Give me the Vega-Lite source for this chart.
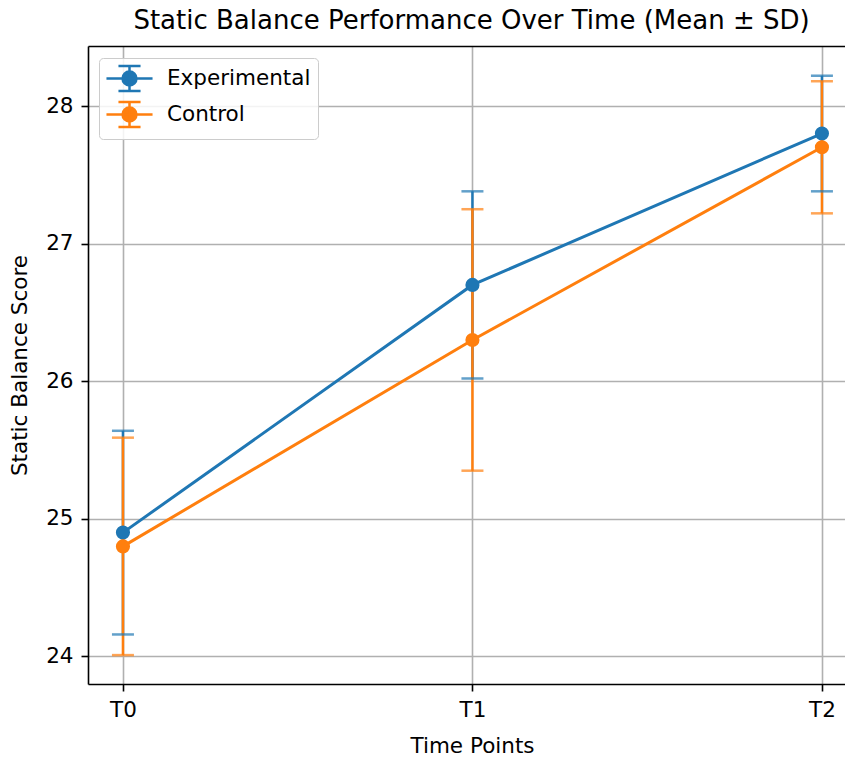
{
  "$schema": "https://vega.github.io/schema/vega-lite/v6.json",
  "autosize": {"type": "none"},
  "padding": {"left": 88, "top": 46, "right": 0, "bottom": 74},
  "width": 757,
  "height": 638,
  "background": "white",
  "config": {
    "view": {"stroke": null},
    "font": "DejaVu Sans",
    "axis": {
      "domainColor": "black",
      "domainWidth": 1.6,
      "tickColor": "black",
      "tickWidth": 1.6,
      "tickSize": 7,
      "gridColor": "#b0b0b0",
      "gridWidth": 1.6,
      "labelFontSize": 21.5,
      "labelColor": "black",
      "titleFontSize": 21.5,
      "titleFontWeight": "normal",
      "titleColor": "black",
      "labelFont": "DejaVu Sans",
      "titleFont": "DejaVu Sans"
    }
  },
  "title": {
    "text": "Static Balance Performance Over Time (Mean ± SD)",
    "fontSize": 26,
    "fontWeight": "normal",
    "color": "black",
    "font": "DejaVu Sans",
    "anchor": "middle",
    "dx": 5,
    "offset": 12
  },
  "data": {
    "values": [
      {"group": "Experimental", "time": "T0", "t": 0, "mean": 24.9, "lo": 24.16, "hi": 25.64},
      {"group": "Experimental", "time": "T1", "t": 1, "mean": 26.7, "lo": 26.02, "hi": 27.38},
      {"group": "Experimental", "time": "T2", "t": 2, "mean": 27.8, "lo": 27.38, "hi": 28.22},
      {"group": "Control", "time": "T0", "t": 0, "mean": 24.8, "lo": 24.01, "hi": 25.59},
      {"group": "Control", "time": "T1", "t": 1, "mean": 26.3, "lo": 25.35, "hi": 27.25},
      {"group": "Control", "time": "T2", "t": 2, "mean": 27.7, "lo": 27.22, "hi": 28.18}
    ]
  },
  "layer": [
    {
      "encoding": {
        "x": {
          "field": "t",
          "type": "quantitative",
          "scale": {"domain": [-0.1, 2.066], "nice": false, "zero": false},
          "axis": {"values": [0, 1, 2], "labelExpr": "['T0','T1','T2'][datum.value]", "labelAngle": 0, "title": "Time Points", "grid": true, "labelPadding": 8, "titlePadding": 15, "labelFlush": false, "titleX": 384}
        },
        "color": {
          "field": "group",
          "type": "nominal",
          "scale": {"domain": ["Experimental", "Control"], "range": ["#1f77b4", "#ff7f0e"]},
          "legend": {
            "title": null,
            "orient": "none",
            "legendX": 11,
            "legendY": 12,
            "padding": 7,
            "fillColor": "rgba(255,255,255,0.85)",
            "strokeColor": "#cccccc",
            "cornerRadius": 4,
            "labelFontSize": 21.5,
            "labelColor": "black",
            "labelFont": "DejaVu Sans",
            "symbolSize": 576,
            "symbolStrokeWidth": 2.5,
            "symbolOffset": 10,
            "labelOffset": 24,
            "rowPadding": 1,
            "symbolType": "M-1.92,0H1.92M0,-1.04V1.04M-0.92,-1.04H0.92M-0.92,1.04H0.92M0.58,0A0.58,0.58,0,1,1,-0.58,0A0.58,0.58,0,1,1,0.58,0Z",
            "encode": {
              "symbols": {
                "update": {
                  "fill": {"scale": "color", "field": "value"},
                  "stroke": {"scale": "color", "field": "value"},
                  "opacity": {"value": 1}
                }
              }
            }
          }
        }
      },
      "layer": [
        {
          "mark": {"type": "rule", "strokeWidth": 2.5},
          "encoding": {
            "y": {
              "field": "lo",
              "type": "quantitative",
              "scale": {"domain": [23.8, 28.436], "nice": false, "zero": false},
              "axis": {"title": "Static Balance Score", "values": [24, 25, 26, 27, 28], "format": "d", "grid": true, "labelPadding": 8, "titlePadding": 14}
            },
            "y2": {"field": "hi"}
          }
        },
        {
          "mark": {"type": "tick", "orient": "horizontal", "thickness": 2.5, "size": 22},
          "encoding": {"y": {"field": "lo", "type": "quantitative"}}
        },
        {
          "mark": {"type": "tick", "orient": "horizontal", "thickness": 2.5, "size": 22},
          "encoding": {"y": {"field": "hi", "type": "quantitative"}}
        },
        {
          "mark": {"type": "line", "strokeWidth": 3},
          "encoding": {"y": {"field": "mean", "type": "quantitative"}}
        },
        {
          "mark": {"type": "point", "filled": true, "opacity": 1, "size": 200},
          "encoding": {"y": {"field": "mean", "type": "quantitative"}}
        }
      ]
    },
    {
      "mark": {"type": "point", "opacity": 0},
      "encoding": {
        "x": {
          "field": "t",
          "type": "quantitative",
          "axis": {"orient": "top", "labels": false, "ticks": false, "grid": false, "title": null, "domain": true}
        }
      }
    }
  ],
  "resolve": {"axis": {"x": "independent"}}
}
